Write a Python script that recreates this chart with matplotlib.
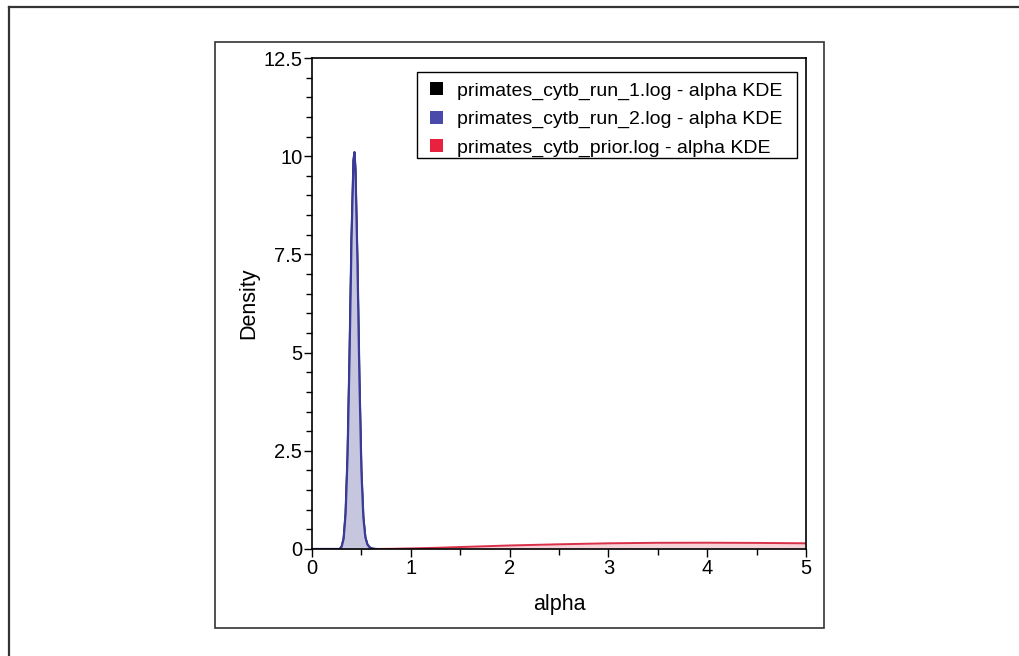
import matplotlib
matplotlib.use("Agg")
import matplotlib.pyplot as plt
from matplotlib.patches import Patch, Rectangle
from matplotlib.lines import Line2D
from matplotlib.ticker import MultipleLocator, FuncFormatter

plt.rcParams['font.family'] = ['Liberation Sans', 'DejaVu Sans']

# Data
series_labels = ["primates_cytb_run_1.log - alpha KDE",
                 "primates_cytb_run_2.log - alpha KDE",
                 "primates_cytb_prior.log - alpha KDE"]

run_x = [0.0, 0.28, 0.30, 0.32, 0.34, 0.36, 0.38, 0.40, 0.42, 0.43, 0.44, 0.46,
         0.48, 0.50, 0.52, 0.54, 0.56, 0.58, 0.60, 0.62, 0.65]
run1_density = [0.0, 0.0, 0.06, 0.26, 0.90, 2.38, 4.92, 7.91, 9.90, 10.1, 9.66, 7.33,
                4.34, 2.00, 0.80, 0.30, 0.12, 0.05, 0.02, 0.005, 0.0]
run2_density = [0.0, 0.0, 0.06, 0.26, 0.90, 2.38, 4.92, 7.91, 9.90, 10.1, 9.66, 7.33,
                4.34, 2.00, 0.80, 0.30, 0.12, 0.05, 0.02, 0.005, 0.0]

prior_x = [0.6, 0.8, 1.0, 1.25, 1.5, 1.75, 2.0, 2.5, 3.0, 3.5, 4.0, 4.5, 5.0]
prior_density = [0.0, 0.005, 0.015, 0.03, 0.05, 0.07, 0.09, 0.12, 0.145, 0.158,
                 0.16, 0.155, 0.145]

W, H = 1019, 656
fig = plt.figure(figsize=(W / 100, H / 100), dpi=100)

# outer frame lines (top and left)
fig.add_artist(Line2D([9 / W, 1.0], [1 - 7 / H, 1 - 7 / H], transform=fig.transFigure,
                      color="#333333", lw=1.6))
fig.add_artist(Line2D([9 / W, 9 / W], [0.0, 1 - 7 / H], transform=fig.transFigure,
                      color="#333333", lw=1.6))
# inner box
fig.add_artist(Rectangle((215 / W, 1 - 628 / H), (824 - 215) / W, (628 - 42) / H,
                         transform=fig.transFigure, fill=False, edgecolor="#333333", lw=1.2))

ax = fig.add_axes([312 / W, 1 - 549 / H, (806 - 312) / W, (549 - 58) / H])

blue_edge = "#3a3a9a"
blue_fill = "#c6c6de"
red_edge = "#d9304a"
red_fill = "#f6d3d8"

ax.fill_between(prior_x, prior_density, color=red_fill, lw=0, zorder=1)
ax.plot(prior_x, prior_density, color=red_edge, lw=1.4, zorder=2)
ax.fill_between(run_x, run1_density, color="#bbbbbb", lw=0, zorder=2)
ax.plot(run_x, run1_density, color="black", lw=1.4, zorder=3)
ax.fill_between(run_x, run2_density, color=blue_fill, lw=0, zorder=4)
ax.plot(run_x, run2_density, color=blue_edge, lw=1.6, zorder=5)

ax.set_xlim(0, 5)
ax.set_ylim(0, 12.5)
ax.xaxis.set_major_locator(MultipleLocator(1))
ax.xaxis.set_minor_locator(MultipleLocator(0.5))
ax.yaxis.set_major_locator(MultipleLocator(2.5))
ax.yaxis.set_minor_locator(MultipleLocator(0.5))
ax.yaxis.set_major_formatter(FuncFormatter(lambda v, p: f"{v:g}"))

ax.tick_params(which="major", direction="out", length=6, width=1, labelsize=14.5, pad=1)
ax.tick_params(which="minor", direction="out", length=4, width=1)
for s in ax.spines.values():
    s.set_linewidth(1.2)
    s.set_zorder(6)

ax.set_xlabel("alpha", fontsize=15.5, labelpad=12)
ax.set_ylabel("Density", fontsize=15.5, labelpad=3)

handles = [Patch(facecolor="black", edgecolor="none"),
           Patch(facecolor="#4a4aaa", edgecolor="none"),
           Patch(facecolor="#e8213f", edgecolor="none")]
leg = fig.legend(handles, series_labels, loc="upper left",
                 bbox_to_anchor=(430 / W, 1 - 82 / H), bbox_transform=fig.transFigure,
                 fontsize=14, frameon=False,
                 handlelength=0.67, handleheight=0.67, handletextpad=0.72,
                 borderaxespad=0, labelspacing=0.56, borderpad=0)
leg.set_zorder(10)
# legend frame
fig.add_artist(Rectangle((417 / W, 1 - 158 / H), (797 - 417) / W, (158 - 72) / H,
                         transform=fig.transFigure, facecolor="white",
                         edgecolor="black", lw=1.0, zorder=9))

fig.savefig("out.png", dpi=100)
